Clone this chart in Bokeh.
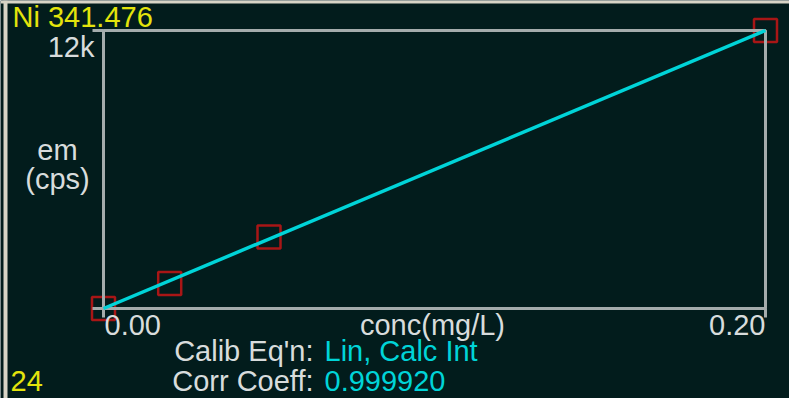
from bokeh.plotting import figure
from bokeh.models import Range1d, Label, Span
from bokeh.embed import file_html
from bokeh.resources import INLINE

# ---- data ----
conc = [0.00, 0.02, 0.05, 0.20]          # mg/L (calibration standards)
cps = [0, 1080, 3090, 12000]             # emission intensity (cps)
fit_conc = [0.00, 0.20]                  # calibration line end points
fit_cps = [0, 12000]
x_ticks = [0.00, 0.20]
x_tick_labels = ["0.00", "0.20"]
y_ticks = [0, 12000]
y_tick_labels = ["", "12k"]
element_label = "Ni 341.476"
x_title = "conc(mg/L)"
y_title = ["em", "(cps)"]
calib_name = "Calib Eq'n:"
calib_eqn = "Lin, Calc Int"
corr_name = "Corr Coeff:"
corr_coeff = "0.999920"
index_label = "24"

# ---- layout (canvas pixels) ----
W, H = 789, 398
FL, FR, FT, FB = 103, 765, 30, 308   # visible plot box

BG = "#021c1c"
FG = "#d8dcdc"
YEL = "#e4e40c"
CYAN = "#00d4d8"
RED = "#a81616"
FRAME = "#a4acac"
BORDER = "#d8d4c6"
FONT = "Liberation Sans"
FS = "29px"
TEXT_SHIFT = -10.5   # compensates the renderer's baseline placement

x0, x1 = x_ticks[0], x_ticks[-1]
y0, y1 = y_ticks[0], y_ticks[-1]
kx = (x1 - x0) / (FR - FL)
ky = (y1 - y0) / (FB - FT)


def X(px):
    return x0 + (px - FL) * kx


def Y(py):
    return y0 + (FB - py) * ky


p = figure(width=W, height=H,
           x_range=Range1d(X(0), X(W)), y_range=Range1d(Y(H), Y(0)),
           output_backend="svg", toolbar_location=None,
           x_axis_type=None, y_axis_type=None, min_border=0, title=None)
p.background_fill_color = BG
p.border_fill_color = BG
p.outline_line_color = None

# outer instrument-window borders
p.add_layout(Span(location=X(5), dimension="height", line_color=BORDER, line_width=4))
p.add_layout(Span(location=Y(1.5), dimension="width", line_color=BORDER, line_width=3))

# calibration standards
p.scatter(conc, cps, marker="square", size=23, fill_color=None,
          line_color=RED, line_width=2.5)

# plot box and tick stubs
p.quad(left=[x0], right=[x1], bottom=[y0], top=[y1], fill_color=None,
       line_color=FRAME, line_width=3)
p.segment(x0=x_ticks, y0=[y0] * len(x_ticks), x1=x_ticks,
          y1=[Y(FB + 9)] * len(x_ticks), line_color=FRAME, line_width=3)
p.segment(x0=[X(FL - 11)] * len(y_ticks), y0=y_ticks, x1=[x0] * len(y_ticks),
          y1=y_ticks, line_color=FRAME, line_width=3)

# calibration line
p.line(fit_conc, fit_cps, line_color=CYAN, line_width=3.5)


def lab(px, py, text, color=FG, align="left"):
    p.add_layout(Label(x=X(px), y=Y(py + TEXT_SHIFT), text=text, text_color=color,
                       text_font=FONT, text_font_size=FS, text_align=align,
                       text_baseline="alphabetic"))


lab(12, 27, element_label, YEL)
lab(94, 57, y_tick_labels[1], FG, "right")
lab(57, 160, y_title[0], FG, "center")
lab(57, 189, y_title[1], FG, "center")
lab(104, 335, x_tick_labels[0], FG, "left")
lab(FR, 335, x_tick_labels[1], FG, "right")
lab(432, 335, x_title, FG, "center")
lab(313, 361, calib_name, FG, "right")
lab(324, 361, calib_eqn, CYAN, "left")
lab(313, 391, corr_name, FG, "right")
lab(324, 391, corr_coeff, CYAN, "left")
lab(10, 391, index_label, YEL, "left")

open("out.html", "w").write(file_html(p, INLINE))
